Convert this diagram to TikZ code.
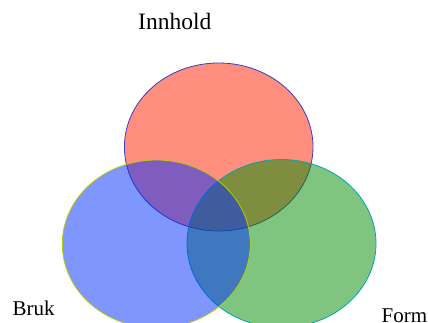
\documentclass[tikz,border=0pt]{standalone}
\usepackage{fontspec}
\setmainfont{Liberation Serif}
\definecolor{cred}{RGB}{255,30,0}
\definecolor{cblue}{RGB}{0,45,255}
\definecolor{cgreen}{RGB}{0,140,0}
\definecolor{ered}{RGB}{60,60,190}
\definecolor{eblue}{RGB}{185,205,0}
\definecolor{egreen}{RGB}{0,165,175}
\begin{document}
\begin{tikzpicture}[x=1pt,y=-1pt,
  setfill/.style={fill opacity=0.5, draw opacity=1, line width=0.8pt},
  lbl/.style={anchor=base west, inner sep=0pt, font=\fontsize{21}{25}\selectfont}]
\useasboundingbox (0,0) rectangle (428,323);
\draw[setfill, fill=cred, draw=ered] (218.7,147) ellipse [x radius=94.3, y radius=84];
\draw[setfill, fill=cgreen, draw=egreen] (281.5,243.5) ellipse [x radius=94.5, y radius=84];
\draw[setfill, fill=cblue, draw=eblue] (156.3,244) ellipse [x radius=94, y radius=84];
\node[lbl, font=\fontsize{23.5}{28}\selectfont] (innhold) at (138,29.5) {Innhold};
\node[lbl] (bruk) at (12.5,315) {Bruk};
\node[lbl] (form) at (381.5,322) {Form};
\end{tikzpicture}
\end{document}
